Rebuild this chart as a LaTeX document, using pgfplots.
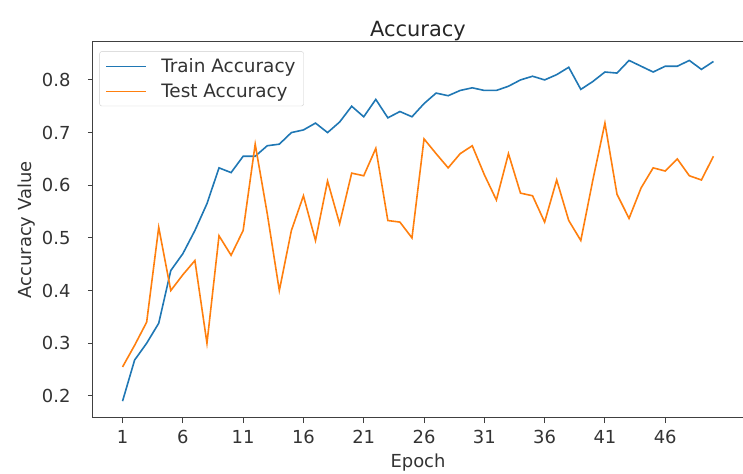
\documentclass[border=0pt]{standalone}
\usepackage{fontspec}
\setmainfont{DejaVu Sans}
\usepackage{pgfplots}
\pgfplotsset{compat=1.18}

\definecolor{mplblue}{HTML}{1F77B4}
\definecolor{mplorange}{HTML}{FF7F0E}
\definecolor{framegray}{HTML}{404040}

\begin{document}
\begin{tikzpicture}
\useasboundingbox (-93bp,-56bp) rectangle (650bp,418bp);
\begin{axis}[
  scale only axis,
  width=650bp, height=376bp,
  xmin=-1.45, xmax=52.45,
  ymin=0.158, ymax=0.872,
  xtick={1,6,...,46},
  ytick={0.2,0.3,...,0.8},
  /pgf/number format/assume math mode=true,
  yticklabel style={xshift=-14bp, /pgf/number format/fixed, /pgf/number format/precision=1},
  tick pos=left,
  tick align=outside,
  major tick length=5bp,
  every tick/.style={framegray, line width=0.9bp},
  axis line style={framegray, line width=1bp},
  tick label style={font=\fontsize{18}{20}\selectfont, text=black!80},
  xticklabel style={yshift=-4bp},
  title={Accuracy},
  title style={font=\fontsize{21}{24}\selectfont, text=black!85, yshift=-8bp},
  xlabel={Epoch},
  ylabel={Accuracy Value},
  label style={font=\fontsize{18}{20}\selectfont, text=black!80},
  xlabel style={yshift=-3bp},
  ylabel style={yshift=0bp},
  legend cell align=left,
  legend style={font=\fontsize{18.5}{20}\selectfont, text=black!80, draw=black!20,
    rounded corners=2bp, inner xsep=6bp, inner ysep=5bp, row sep=6bp,
    at={(0.01,0.975)}, anchor=north west,
    /tikz/every odd column/.append style={column sep=12bp}},
  legend image code/.code={\draw[#1, line width=1.6bp] (0bp,0bp) -- (40bp,0bp);},
]
\addplot[mplblue, line width=1.6bp] coordinates {
  (1,0.190) (2,0.268) (3,0.300) (4,0.338) (5,0.438) (6,0.470) (7,0.514) (8,0.565)
  (9,0.633) (10,0.624) (11,0.655) (12,0.655) (13,0.675) (14,0.678) (15,0.700)
  (16,0.705) (17,0.718) (18,0.700) (19,0.720) (20,0.750) (21,0.730) (22,0.763)
  (23,0.728) (24,0.740) (25,0.730) (26,0.755) (27,0.775) (28,0.770) (29,0.780)
  (30,0.785) (31,0.780) (32,0.780) (33,0.788) (34,0.800) (35,0.807) (36,0.800)
  (37,0.810) (38,0.824) (39,0.782) (40,0.797) (41,0.815) (42,0.813) (43,0.837)
  (44,0.826) (45,0.815) (46,0.826) (47,0.826) (48,0.837) (49,0.820) (50,0.835)
};
\addlegendentry{Train Accuracy}
\addplot[mplorange, line width=1.6bp] coordinates {
  (1,0.255) (2,0.296) (3,0.340) (4,0.520) (5,0.400) (6,0.430) (7,0.457) (8,0.300)
  (9,0.504) (10,0.467) (11,0.514) (12,0.678) (13,0.546) (14,0.400) (15,0.514)
  (16,0.580) (17,0.495) (18,0.608) (19,0.527) (20,0.623) (21,0.618) (22,0.670)
  (23,0.533) (24,0.530) (25,0.500) (26,0.688) (27,0.660) (28,0.633) (29,0.660)
  (30,0.675) (31,0.620) (32,0.572) (33,0.660) (34,0.585) (35,0.580) (36,0.530)
  (37,0.610) (38,0.533) (39,0.495) (40,0.610) (41,0.718) (42,0.583) (43,0.537)
  (44,0.595) (45,0.633) (46,0.627) (47,0.650) (48,0.618) (49,0.610) (50,0.655)
};
\addlegendentry{Test Accuracy}
\end{axis}
\end{tikzpicture}
\end{document}
